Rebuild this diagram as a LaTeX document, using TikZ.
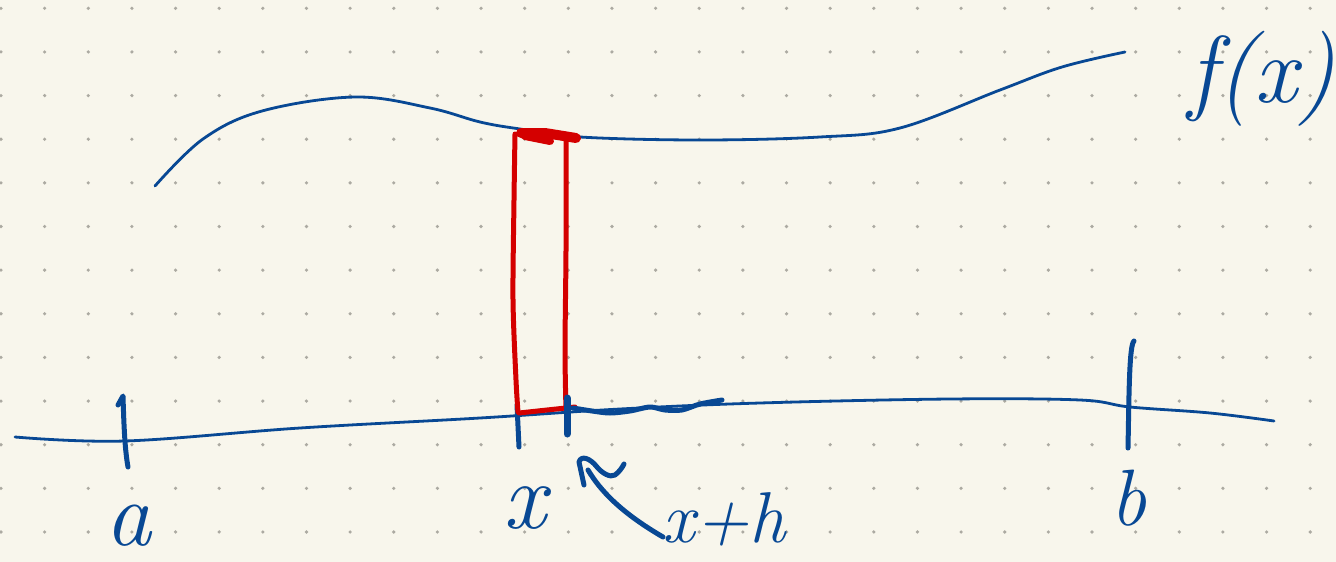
\documentclass[tikz,border=0pt]{standalone}
\usepackage{fontspec}
\definecolor{ink}{RGB}{8,72,148}
\definecolor{redink}{RGB}{212,0,0}
\definecolor{paper}{RGB}{248,246,236}
\definecolor{dotgray}{RGB}{172,170,162}
\tikzset{
 pen/.style={draw=ink, line width=2.8pt, line cap=round, line join=round},
 thickpen/.style={draw=ink, line width=5pt, line cap=round, line join=round},
 redpen/.style={draw=redink, line width=5pt, line cap=round, line join=round},
 lbl/.style={text=ink, inner sep=0pt, anchor=base},
}
\begin{document}
\begin{tikzpicture}[x=1pt,y=-1pt]
\fill[paper] (0,0) rectangle (1336,562);
\useasboundingbox (0,0) rectangle (1336,562);
\foreach \i in {0,...,30}{\foreach \j in {0,...,12}{\fill[dotgray] ({1+43.64*\i},{8.3+43.64*\j}) circle (1.8pt);}}
% f(x) curve
\draw[pen] plot[smooth, tension=0.6] coordinates {(155,186) (203,139) (262,111) (355,97) (430,108) (480,122) (520,129) (580,137) (700,140) (820,137) (900,128) (1000,90) (1062,67) (1125,52)};
% axis
\draw[pen] plot[smooth, tension=0.6] coordinates {(15,437) (125,441) (300,428) (480,418) (620,409) (760,403) (950,399) (1080,400) (1130,407) (1210,413) (1274,421)};
% ticks
\draw[thickpen] (118,405) -- (123,396) .. controls (124,430) and (125,450) .. (128,467);
\draw[thickpen] (517,405) -- (519,447);
\draw[thickpen] (1134,341) .. controls (1129,345) and (1129,400) .. (1128,448);
% red rectangle
\draw[redpen] plot[smooth] coordinates {(515,134) (514,200) (513,300) (516,380) (518,412)};
\draw[redpen] plot[smooth] coordinates {(566,140) (566,250) (565,350) (566,410)};
\draw[redpen] (519,413) -- (575,407);
\draw[redpen, line width=10pt] (521,133) -- (545,133) -- (576,138);
\draw[redpen, line width=8pt] (525,136) -- (550,141);
% x+h tick and wavy segment
\draw[thickpen, line width=7pt] (567,398) -- (567,434);
\draw[thickpen] plot[smooth] coordinates {(573,408) (592,411) (610,413) (630,411) (650,407) (665,410) (682,410) (700,404) (722,400)};
% arrow
\draw[thickpen] (584,485) -- (579,462) .. controls (581,455) and (590,458) .. (597,467) .. controls (602,473) and (610,478) .. (615,475) .. controls (619,472) and (622,468) .. (624,464);
\draw[thickpen] (588,470) .. controls (600,490) and (620,512) .. (663,537);
% labels
\node[lbl, font=\fontsize{95}{100}\selectfont\itshape] (fx) at (1262,102) {f(x)};
\node[lbl, font=\fontsize{92}{100}\selectfont\itshape] (la) at (128,545) {a};
\node[lbl, font=\fontsize{95}{100}\selectfont\itshape] (lx) at (525,528) {x};
\node[lbl, font=\fontsize{80}{90}\selectfont\itshape] (lb) at (1128,525) {b};
\node[lbl, font=\fontsize{72}{80}\selectfont\itshape] (lxh) at (724,542) {x+h};
\end{tikzpicture}
\end{document}
